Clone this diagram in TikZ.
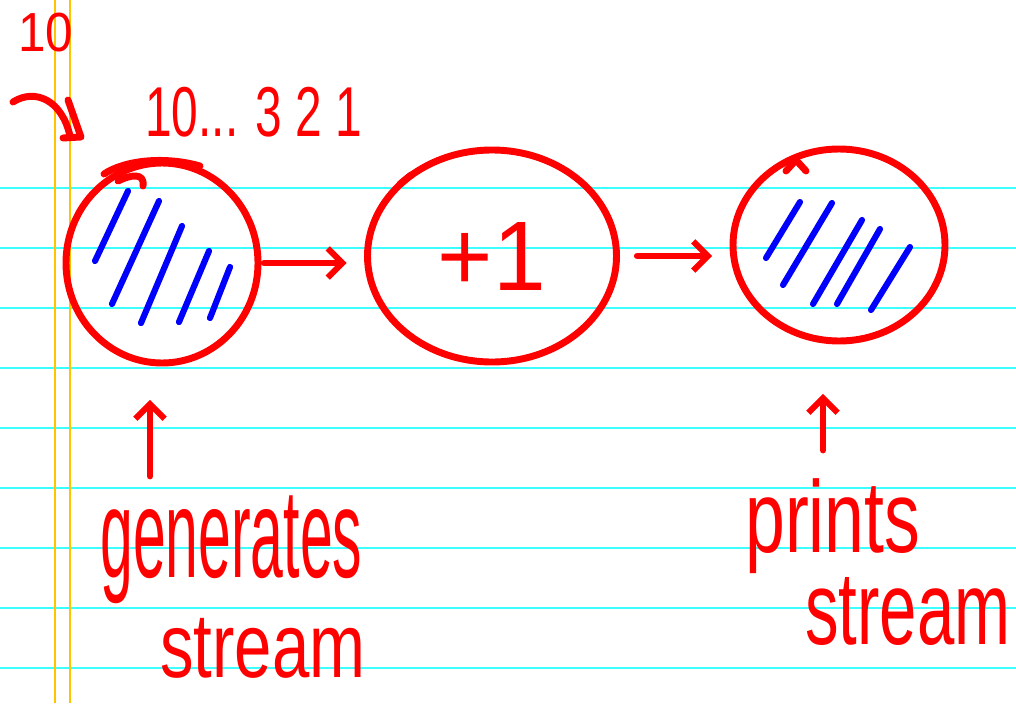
\documentclass[tikz,border=0pt]{standalone}
\usepackage{fontspec}
\setmainfont{Liberation Sans}
\usepackage{graphicx}
\usetikzlibrary{shapes.geometric,arrows.meta}
\definecolor{ink}{RGB}{255,0,0}
\definecolor{hatch}{RGB}{0,0,255}
\definecolor{ruleline}{RGB}{60,255,255}
\definecolor{marginline}{RGB}{255,195,0}
\newlength\pxu
\setlength\pxu{0.75pt}
\begin{document}
\begin{tikzpicture}[x=0.75pt,y=-0.75pt,
  pen/.style={draw=ink,line width=5.2pt,line cap=round,line join=round},
  hatchline/.style={draw=hatch,line width=4.6pt,line cap=round},
  bubble/.style={ellipse,pen,inner sep=0pt},
  hand/.style={text=ink,inner sep=0pt,anchor=north west},
  flow/.style={pen,-{Straight Barb[length=11pt,width=22pt,line width=4.5pt]}}]
\fill[white] (0,0) rectangle (1016,703);
\useasboundingbox (0,0) rectangle (1016,703);
% ruled paper
\foreach \y in {188,248,...,668} \draw[ruleline,line width=1.6pt] (0,\y) -- (1016,\y);
\foreach \x in {55,70} \draw[marginline,line width=1.2pt] (\x,0) -- (\x,703);
% bubbles
\node[bubble,minimum width=192\pxu,minimum height=200\pxu] (c1) at (162,263) {};
\node[bubble,minimum width=249\pxu,minimum height=212\pxu] (c2) at (492,256)
  {\textcolor{ink}{\resizebox*{108\pxu}{68\pxu}{+1}}};
\node[bubble,minimum width=212\pxu,minimum height=192\pxu] (c3) at (839,245) {};
% stroke tails
\draw[pen] (104,174) .. controls (125,160) and (165,156) .. (200,166);
\draw[pen] (118,181) .. controls (130,175) and (145,172) .. (143,186);
\draw[pen] (400,184) -- (411,175);
\draw[pen] (786,171) -- (796,160) -- (806,171);
% hatching
\draw[hatchline] (128,191) -- (95,261);
\draw[hatchline] (159,201) -- (112,304);
\draw[hatchline] (182,226) -- (141,323);
\draw[hatchline] (209,251) -- (179,322);
\draw[hatchline] (230,267) -- (210,318);
\draw[hatchline] (800,202) -- (766,258);
\draw[hatchline] (832,203) -- (783,285);
\draw[hatchline] (862,220) -- (813,304);
\draw[hatchline] (880,229) -- (837,304);
\draw[hatchline] (910,247) -- (871,310);
% connectors
\draw[flow,shorten <=2pt,shorten >=13pt] (c1.east) -- (c1.east -| c2.west);
\draw[flow,shorten <=13pt,shorten >=13pt] (c2.east) -- (c2.east -| c3.west);
\coordinate (u1) at (150,476);
\coordinate (u3) at (823,450);
\draw[flow,shorten >=25pt] (u1) -- (u1 |- c1.south);
\draw[flow,shorten >=37pt] (u3) -- (u3 |- c3.south);
% top-left curved arrow
\coordinate (k0) at (13,102);
\coordinate (k1) at (70,136);
\draw[pen] (k0) .. controls (35,88) and (62,100) .. (k1);
\draw[pen] (68,100) -- (81,137) -- (63,138);
% labels
\node[hand] (ten) at (18,13) {\resizebox*{55\pxu}{39\pxu}{10}};
\node[hand] (seq) at (145,87) {\resizebox*{217\pxu}{50\pxu}{10... 3 2 1}};
\node[hand] (gen) at (100,495) {\resizebox*{262\pxu}{108\pxu}{generates}};
\node[hand] (str1) at (160,618) {\resizebox*{205\pxu}{60\pxu}{stream}};
\node[hand] (prn) at (745,478) {\resizebox*{175\pxu}{95\pxu}{prints}};
\node[hand] (str2) at (805,577) {\resizebox*{205\pxu}{68\pxu}{stream}};
\end{tikzpicture}
\end{document}
